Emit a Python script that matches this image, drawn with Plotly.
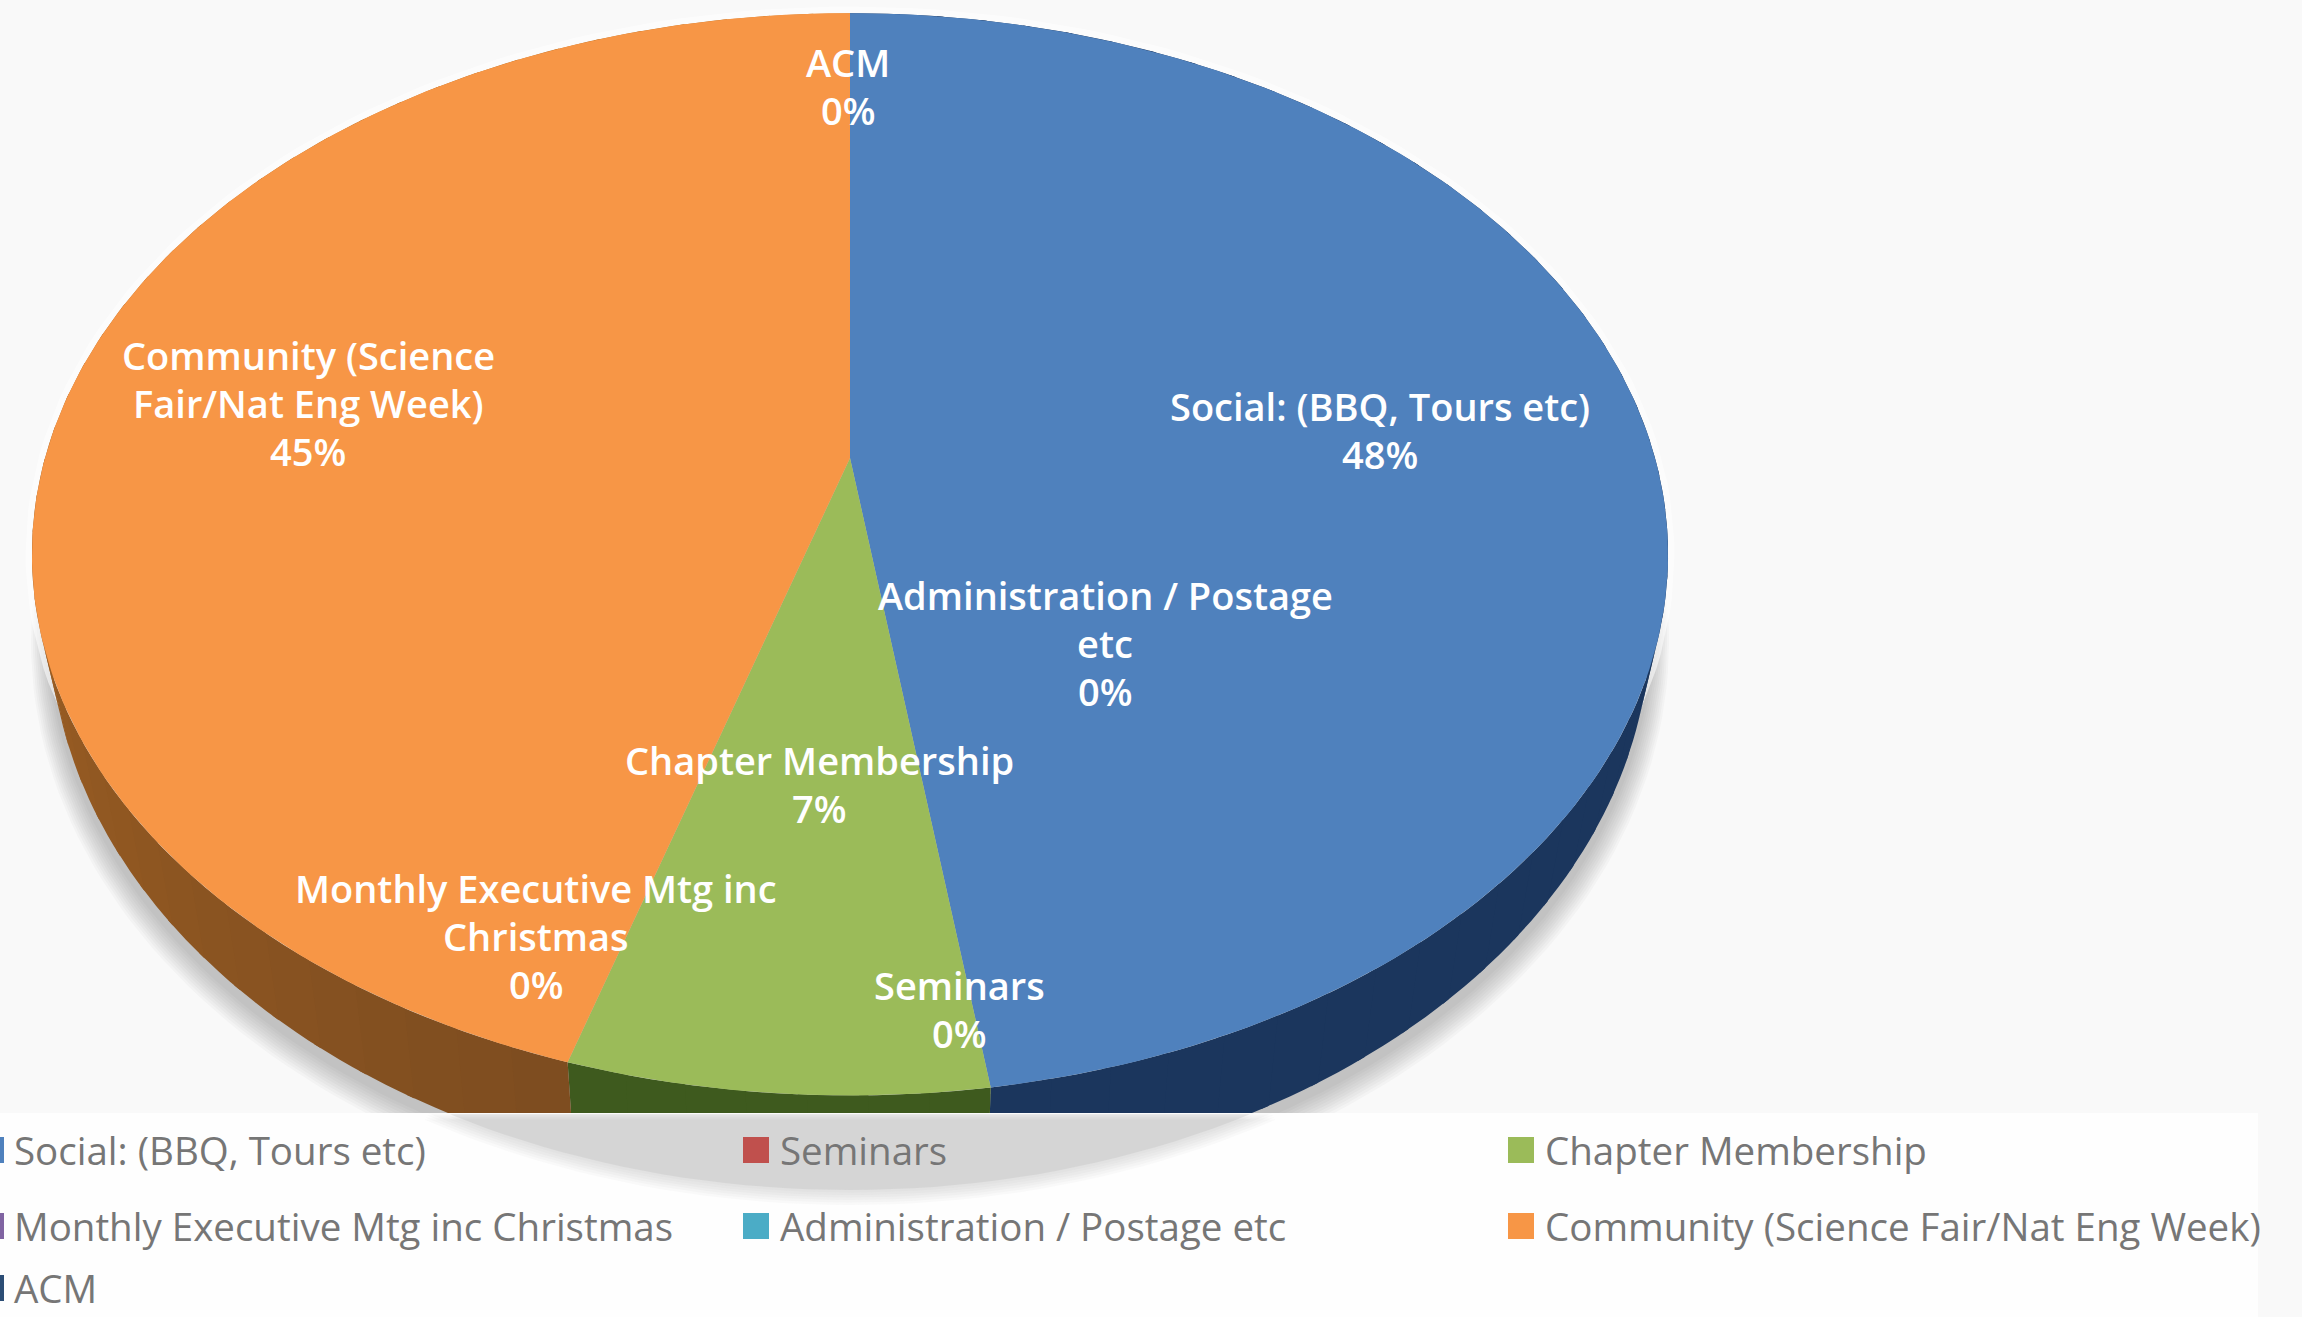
import math
import plotly.graph_objects as go

categories = ["Social: (BBQ, Tours etc)", "Seminars", "Chapter Membership",
              "Monthly Executive Mtg inc Christmas", "Administration / Postage etc",
              "Community (Science Fair/Nat Eng Week)", "ACM"]
values = [47.7, 0.0, 7.0, 0.0, 0.0, 45.3, 0.0]
colors = ["#4f81bd", "#c0504d", "#9bbb59", "#8064a2", "#4bacc6", "#f79646", "#2c4d75"]
side_start = [(27, 54, 93), (122, 50, 48), (62, 90, 30), (80, 64, 106), (43, 106, 124), (125, 76, 32), (27, 48, 73)]
side_end = [(27, 54, 93), (122, 50, 48), (62, 90, 30), (80, 64, 106), (43, 106, 124), (205, 122, 38), (27, 48, 73)]
label_lines = [["Social: (BBQ, Tours etc)"], ["Seminars"], ["Chapter Membership"],
               ["Monthly Executive Mtg inc", "Christmas"], ["Administration / Postage", "etc"],
               ["Community (Science", "Fair/Nat Eng Week)"], ["ACM"]]

W, H = 2302, 1317
BG = "#f9f9f9"
# geometry of the tilted disc, in page pixels
CX, APEX_Y, KT, B, A = 850, 458, 0.178, 524, 805
TOP_CY, TOP_RX, TOP_RY = 554.5, 818, 541.5
LOW_CY, LOW_RX, LOW_RY = 625, 800, 565
PANEL_TOP = 1113


def rim(frac):
    t = 2 * math.pi * frac
    x, y = math.sin(t), math.cos(t)
    w = 1 + KT * y
    return CX + A * x / w, APEX_Y - B * y / w


def low(px, py):
    return CX + (px - CX) * LOW_RX / TOP_RX, LOW_CY + (py - TOP_CY) * LOW_RY / TOP_RY


def ellipse(cy, rx, ry, n=240):
    pts = [(CX + rx * math.cos(2 * math.pi * i / n), cy + ry * math.sin(2 * math.pi * i / n)) for i in range(n + 1)]
    return [p[0] for p in pts], [p[1] for p in pts]


def add_fill(fig, xs, ys, color, name=None, hover="skip"):
    fig.add_trace(go.Scatter(x=xs, y=ys, mode="lines", fill="toself", line=dict(width=0),
                             fillcolor=color, name=name, hoverinfo=hover))


fig = go.Figure()

# soft drop shadow
for g in range(10, 0, -1):
    ex, ey = ellipse(LOW_CY + 8 + g * 0.9, LOW_RX + g * 1.9, LOW_RY + g * 1.9)
    add_fill(fig, ex, ey, "rgba(70,70,70,0.03)")
# light halo round the disc
ex, ey = ellipse(TOP_CY, TOP_RX + 3, TOP_RY + 3)
fig.add_trace(go.Scatter(x=ex, y=ey, mode="lines", line=dict(width=7, color="rgba(255,255,255,0.55)"),
                         hoverinfo="skip"))

# wedge sweep positions
total = sum(values)
starts, cum = [], 0.0
for v in values:
    starts.append(cum / total)
    cum += v

# sides, shaded in narrow bands
for cat, v, s, c0, c1 in zip(categories, values, starts, side_start, side_end):
    if v <= 0:
        continue
    n = max(2, int(v))
    for b in range(n):
        f0 = s + (v / total) * b / n
        f1 = s + (v / total) * (b + 1.15) / n
        f1 = min(f1, s + v / total)
        u = (b + 0.5) / n
        col = "rgb(%d,%d,%d)" % tuple(round(p + (q - p) * u) for p, q in zip(c0, c1))
        arc = [rim(f0 + (f1 - f0) * i / 4) for i in range(5)]
        lo = [low(*p) for p in arc]
        poly = arc + lo[::-1] + [arc[0]]
        add_fill(fig, [p[0] for p in poly], [p[1] for p in poly], col)

# top surface
for cat, v, s, c in zip(categories, values, starts, colors):
    if v <= 0:
        continue
    n = max(2, int(v * 4))
    arc = [rim(s + (v / total) * i / n) for i in range(n + 1)]
    poly = [(CX, APEX_Y)] + arc + [(CX, APEX_Y)]
    add_fill(fig, [p[0] for p in poly], [p[1] for p in poly], c, name=cat, hover="name")

# legend panel
LEFT, RIGHT, BOTTOM = -5, 2258, H + 5
add_fill(fig, [LEFT, RIGHT, RIGHT, LEFT, LEFT], [PANEL_TOP, PANEL_TOP, BOTTOM, BOTTOM, PANEL_TOP], "#fefefe")

# the part of the disc under the panel shows only as a grey ghost
for g in range(6, -1, -1):
    ex, ey = ellipse(LOW_CY, LOW_RX + g * 2.5, LOW_RY + g * 2.5)
    clipped = [(a, b) for a, b in zip(ex, ey) if b >= PANEL_TOP]
    clipped.sort(key=lambda p: p[0])
    add_fill(fig, [p[0] for p in clipped] + [clipped[0][0]], [p[1] for p in clipped] + [clipped[0][1]],
             "rgba(150,152,150,0.05)" if g else "rgba(190,192,190,0.36)")

# legend, row by row
col_x = [0, 745, 1510]
row_y = [1150, 1226, 1288]
lx, ly, lc = [], [], []
annotations = []
for i, (cat, c) in enumerate(zip(categories, colors)):
    r, k = divmod(i, 3)
    lx.append(-9 if k == 0 else col_x[k] + 11)
    ly.append(row_y[r])
    lc.append(c)
    annotations.append(dict(x=col_x[k] + 12 if k == 0 else col_x[k] + 33, y=row_y[r], text=cat, showarrow=False,
                            xanchor="left", yanchor="middle", xref="x", yref="y",
                            font=dict(family="Open Sans", size=38.5, color="#767676")))
fig.add_trace(go.Scatter(x=lx, y=ly, mode="markers", cliponaxis=True,
                         marker=dict(symbol="square", size=26, color=lc, line=dict(width=0)), hoverinfo="skip"))

# data labels, one annotation per line
label_x = [1380, 959, 819, 536, 1105, 308, 848]
label_y = [406, 985, 760, 888, 595, 355, 62]
LINE = 48
for lines, v, x, y in zip(label_lines, values, label_x, label_y):
    for j, t in enumerate(lines + [f"{round(v / total * 100)}%"]):
        annotations.append(dict(x=x, y=y + j * LINE, text=t, showarrow=False, xanchor="center", yanchor="middle",
                                xref="x", yref="y",
                                font=dict(family="Open Sans", size=38, color="white", weight=600)))

fig.update_layout(width=W, height=H, margin=dict(l=0, r=0, t=0, b=0), showlegend=False,
                  paper_bgcolor=BG, plot_bgcolor=BG, annotations=annotations,
                  xaxis=dict(range=[0, W], visible=False, fixedrange=True),
                  yaxis=dict(range=[H, 0], visible=False, fixedrange=True))
fig.write_html("out.html", config=dict(displayModeBar=False), post_script="document.body.style.margin='0';")
